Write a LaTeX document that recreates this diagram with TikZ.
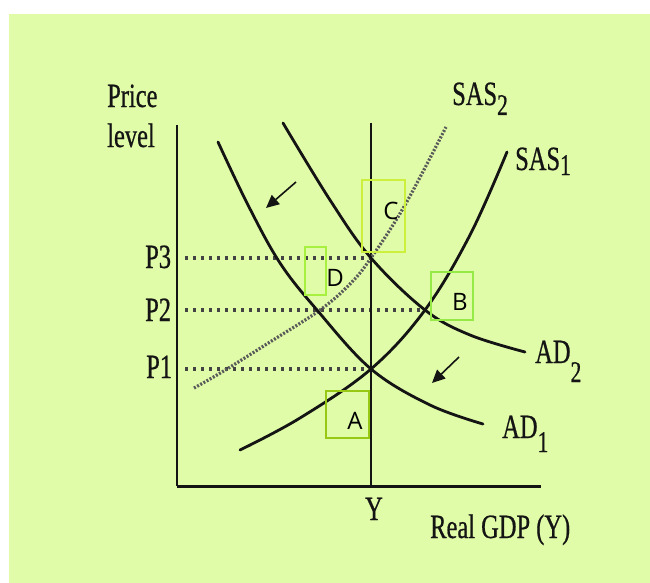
\documentclass[tikz,border=0pt]{standalone}
\usepackage{fontspec}
\usetikzlibrary{arrows.meta}
\newfontfamily\labfont[FakeStretch=0.72,FakeBold=0.6]{Liberation Serif}
\newfontfamily\boxfont{Open Sans}
\definecolor{bgcol}{RGB}{224,252,168}
\definecolor{cboxcol}{RGB}{204,240,60}
\definecolor{dboxcol}{RGB}{168,240,64}
\definecolor{bboxcol}{RGB}{150,234,70}
\definecolor{aboxcol}{RGB}{150,200,20}
\definecolor{inkcol}{RGB}{20,20,20}
\tikzset{
  curve/.style={draw=inkcol, line width=2.8pt, line cap=round},
  axisline/.style={draw=inkcol, line width=2pt},
  guide/.style={draw=inkcol!80, line width=3.2pt, dash pattern=on 3pt off 5pt},
  sasdot/.style={draw=inkcol!70, line width=3.2pt, dash pattern=on 2pt off 1.6pt},
  lab/.style={inner sep=0pt, font=\labfont\fontsize{34}{36}\selectfont, text=inkcol},
  hbox/.style={line width=1.6pt},
  boxlab/.style={inner sep=0pt, font=\boxfont\fontsize{24}{26}\selectfont},
  shiftarrow/.style={draw=inkcol, line width=1.6pt, -{Triangle[length=13pt,width=12pt]}},
}
\newcommand{\subdig}[2]{\raisebox{#1}{\fontsize{30}{30}\selectfont #2}}
\begin{document}
\begin{tikzpicture}[x=1pt,y=-1pt]
\useasboundingbox (0,0) rectangle (650,583);
\fill[white] (0,0) rectangle (650,583);
\fill[bgcol] (9,14) rectangle (650,583);

% coordinates of the equilibria
\coordinate (ptC) at (371,258);
\coordinate (ptB) at (425,310);
\coordinate (ptA) at (371,369);
\coordinate (origin) at (177,486);
\coordinate (ytop) at (177,125);
\coordinate (xend) at (541,486);
\coordinate (vtop) at (371,123);
\coordinate (vbot) at (371,486);

% guide lines
\coordinate (g3) at (185,258);
\coordinate (g2) at (185,310);
\coordinate (g1) at (185,369);
\draw[guide] (g3) -- (ptC);
\draw[guide] (g2) -- (ptB);
\draw[guide] (g1) -- (ptA);

% axes
\draw[axisline] (ytop) -- (origin);
\draw[axisline, line width=3pt] (origin) -- (xend);
\draw[axisline, line width=2.2pt] (vtop) -- (vbot);

% SAS2 dotted
\draw[sasdot] plot[smooth, tension=0.6] coordinates {(194,388) (222,372) (270,342) (320,310) (350,284) (371,258) (405,205) (446,127)};

% SAS1
\draw[curve] plot[smooth, tension=0.6] coordinates {(240,450) (300,418) (371,369) (425,310) (470,235) (507,152)};

% AD1
\draw[curve] plot[smooth, tension=0.6] coordinates {(218,142) (248,205) (280,263) (317,310) (371,369) (430,405) (483,424)};

% AD2
\draw[curve] plot[smooth, tension=0.6] coordinates {(283,123) (330,200) (371,258) (425,310) (470,335) (525,352)};

% shift arrows
\coordinate (a1s) at (296,182);
\coordinate (a1e) at (266,208);
\coordinate (a2s) at (459,357);
\coordinate (a2e) at (432,383);
\draw[shiftarrow] (a1s) -- (a1e);
\draw[shiftarrow] (a2s) -- (a2e);

% labels
\node[lab, anchor=base west] (price) at (107,107) {Price};
\node[lab, anchor=base west] (level) at (107,147) {level};
\node[lab, anchor=base west] (p3) at (145,268) {P3};
\node[lab, anchor=base west] (p2) at (145,321) {P2};
\node[lab, anchor=base west] (p1) at (146,378) {P1};
\node[lab, anchor=base] (ylab) at (374,520) {Y};
\node[lab, anchor=base west] (gdp) at (430,538) {Real GDP (Y)};
\node[lab, anchor=base west] (sas2) at (452,105) {SAS\subdig{-10pt}{2}};
\node[lab, anchor=base west] (sas1) at (515,170) {SAS\subdig{-5pt}{1}};
\node[lab, anchor=base west] (ad2) at (535,363) {AD\subdig{-19pt}{2}};
\node[lab, anchor=base west] (ad1) at (502,438) {AD\subdig{-14pt}{1}};

% highlight boxes
\draw[hbox, cboxcol] (362,180) rectangle (405,252);
\draw[hbox, dboxcol] (305,247) rectangle (326,295);
\draw[hbox, bboxcol] (431,272) rectangle (473,320);
\draw[hbox, aboxcol] (326,391) rectangle (369,438);
\node[boxlab] (lc) at (391,211) {C};
\node[boxlab] (ld) at (335,278) {D};
\node[boxlab] (lb) at (460,302) {B};
\node[boxlab] (la) at (355,421) {A};
\end{tikzpicture}
\end{document}
